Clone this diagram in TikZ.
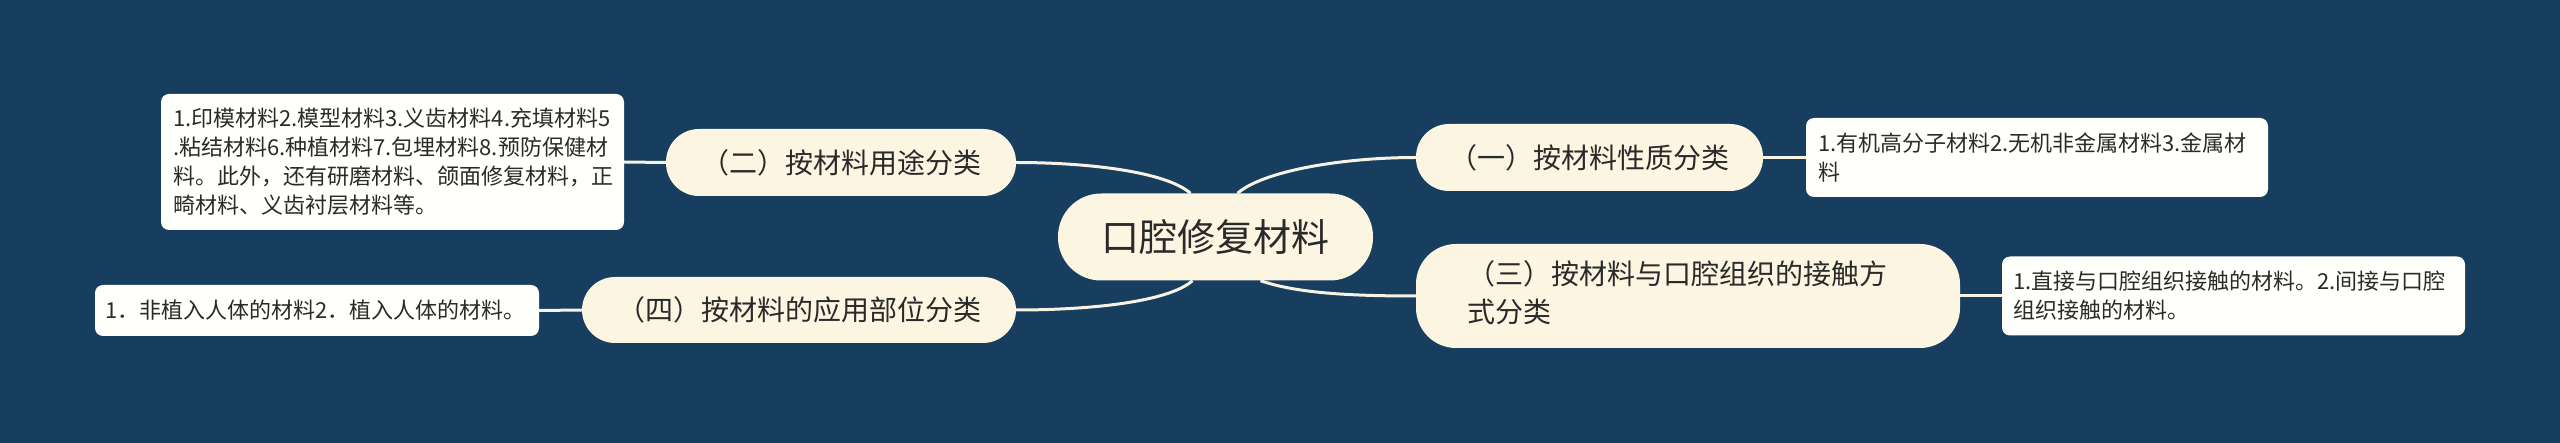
\documentclass[tikz,border=0pt]{standalone}
\usepackage{fontspec}
\newfontfamily\cjk{Noto Sans CJK SC}
\definecolor{bg}{HTML}{173E5E}
\definecolor{cream}{HTML}{FBF5E2}
\definecolor{leafc}{HTML}{FFFFFC}
\definecolor{txt}{HTML}{2A2A2A}
\definecolor{wire}{HTML}{F7F2E3}
\begin{document}
\begin{tikzpicture}[x=1pt,y=-1pt,
  root/.style={fill=cream, rounded corners=43pt, minimum width=315pt, minimum height=87pt, inner sep=0pt, font=\cjk\fontsize{38}{46}\selectfont, text=txt},
  topic/.style={fill=cream, rounded corners=33pt, minimum height=67pt, inner sep=0pt, font=\cjk\fontsize{28}{38}\selectfont, text=txt},
  topictext/.style={anchor=west, align=left, inner sep=0pt, font=\cjk\fontsize{28}{38}\selectfont, text=txt},
  leafbox/.style={fill=leafc, rounded corners=8pt, inner sep=0pt},
  leaftext/.style={anchor=west, align=left, inner sep=0pt, font=\cjk\fontsize{22}{29}\selectfont, text=txt},
  wirestyle/.style={draw=wire, line width=3pt}]
\fill[bg] (0,0) rectangle (2560,443);
\useasboundingbox (0,0) rectangle (2560,443);

% root
\node[root] (root) at (1215.5,237) {口腔修复材料};

% topics
\node[topic, minimum width=347pt] (t1) at (1589.5,157.5) {（一）按材料性质分类};
\node[topic, minimum width=350pt] (t2) at (841,162.5) {（二）按材料用途分类};
\node[topic, minimum width=544pt, minimum height=104pt, rounded corners=40pt] (t3) at (1688,296) {};
\node[topictext] (t3t) at ([xshift=51pt,yshift=3pt]t3.west) {（三）按材料与口腔组织的接触方\\式分类};
\node[topic, minimum width=434pt, minimum height=66pt] (t4) at (799,310) {（四）按材料的应用部位分类};

% leaves
\node[leafbox, minimum width=462pt, minimum height=79pt] (l1) at (2037,157.5) {};
\node[leaftext] (l1t) at ([xshift=12pt]l1.west) {1.有机高分子材料2.无机非金属材料3.金属材\\料};
\node[leafbox, minimum width=463pt, minimum height=136pt] (l2) at (392.5,162) {};
\node[leaftext] (l2t) at ([xshift=12pt]l2.west) {1.印模材料2.模型材料3.义齿材料4.充填材料5\\.粘结材料6.种植材料7.包埋材料8.预防保健材\\料。此外，还有研磨材料、颌面修复材料，正\\畸材料、义齿衬层材料等。};
\node[leafbox, minimum width=463pt, minimum height=79pt] (l3) at (2233.5,296) {};
\node[leaftext] (l3t) at ([xshift=11pt]l3.west) {1.直接与口腔组织接触的材料。2.间接与口腔\\组织接触的材料。};
\node[leafbox, minimum width=444pt, minimum height=51pt] (l4) at (317,310.5) {};
\node[leaftext] (l4t) at ([xshift=10pt]l4.west) {1．非植入人体的材料2．植入人体的材料。};

% connector anchors on root
\coordinate (r1) at ([xshift=22pt]root.north);
\coordinate (r2) at ([xshift=-25pt]root.north);
\coordinate (r3) at ([xshift=45pt]root.south);
\coordinate (r4) at ([xshift=-23pt]root.south);

% connectors
\draw[wirestyle] (t2.east) .. controls +(70,0) and +(-25,-22) .. (r2);
\draw[wirestyle] (t1.west) .. controls +(-75,0) and +(25,-22) .. (r1);
\draw[wirestyle] (t4.east) .. controls +(70,0) and +(-25,22) .. (r4);
\draw[wirestyle] (t3.west) .. controls +(-70,0) and +(35,12) .. (r3);

\draw[wirestyle] (t1.east) -- (l1.west);
\draw[wirestyle] (t2.west) -- (l2.east);
\draw[wirestyle] (t3.east) -- (l3.west);
\draw[wirestyle] (t4.west) -- (l4.east);
\end{tikzpicture}
\end{document}
